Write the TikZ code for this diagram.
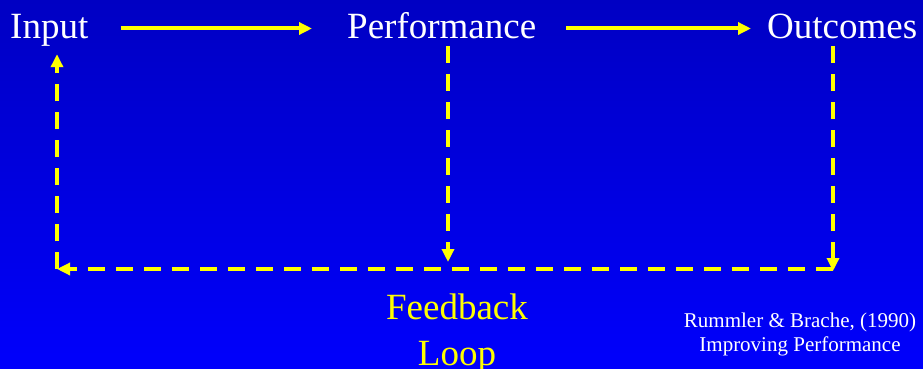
\documentclass[tikz,border=0pt]{standalone}
\usepackage{xcolor}
\usepackage{fontspec}
\setmainfont{Liberation Serif}
\usetikzlibrary{arrows.meta}
\definecolor{slidetop}{RGB}{0,0,195}
\definecolor{slidebottom}{RGB}{0,0,252}
\definecolor{loopyellow}{RGB}{255,255,0}

\tikzset{
  stage/.style={text=white, font=\fontsize{37}{44}\selectfont, inner sep=0pt,
    text height=27pt, text depth=8pt, anchor=base west},
  flow/.style={draw=loopyellow, line width=4pt, -{Triangle[length=13pt,width=12pt]}},
  loopline/.style={flow, dash pattern=on 17pt off 11pt},
}

\begin{document}
\begin{tikzpicture}[x=1pt,y=-1pt]
\shade[top color=slidetop, bottom color=slidebottom] (0,0) rectangle (923,369);
\useasboundingbox (0,0) rectangle (923,369);

% the three stages
\node[stage] (input) at (10,38) {Input};
\node[stage] (perf) at (347,38) {Performance};
\node[stage] (outcomes) at (767,38) {Outcomes};

\draw[flow, shorten <=32pt, shorten >=35pt] (input.east) -- (perf.west);
\draw[flow, shorten <=30pt, shorten >=16pt] (perf.east) -- (outcomes.west);

% feedback loop
\coordinate (loopP) at (448,262);
\coordinate (loopR) at (833,271);
\coordinate (loopL) at (57,269);
\draw[loopline] (perf.south -| loopP) -- (loopP);
\draw[loopline] (outcomes.south -| loopR) -- (loopR);
\draw[loopline] (loopR |- loopL) -- (loopL);
\draw[loopline, shorten >=8pt] (loopL) -- (input.south -| loopL);

\node[text=loopyellow, font=\fontsize{37}{46}\selectfont, align=center, anchor=base] (feedback) at (457,365) {Feedback\\Loop};
\node[text=white, font=\fontsize{21}{24}\selectfont, align=center, anchor=base] (source) at (800,351) {Rummler \& Brache, (1990)\\Improving Performance};
\end{tikzpicture}
\end{document}
